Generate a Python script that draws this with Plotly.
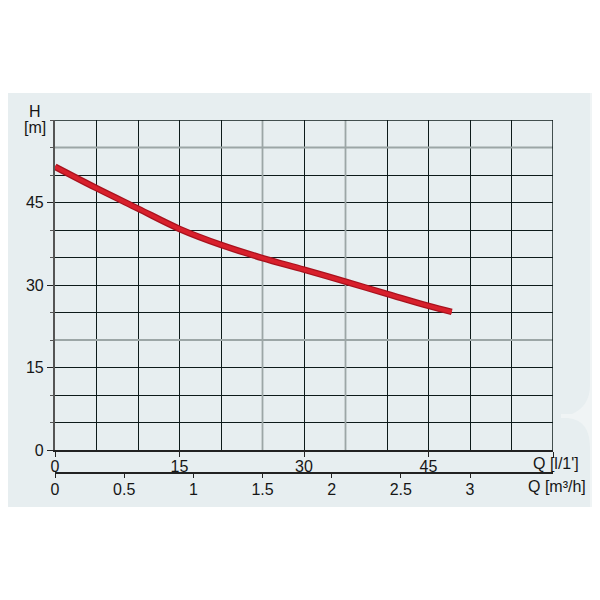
import plotly.graph_objects as go

# Data
q_lmin = [0, 5, 10, 15, 20, 25, 30, 35, 40, 45, 47.8]
head_m = [51.5, 47.6, 43.9, 40.2, 37.3, 34.9, 32.8, 30.6, 28.4, 26.2, 25.1]

y_ticks = [0, 15, 30, 45]
x_ticks = [0, 15, 30, 45, 60]
x_ticktext = ["0", "15", "30", "45", ""]
m3h_ticks = [0, 0.5, 1, 1.5, 2, 2.5, 3]
m3h_ticktext = ["0", "0.5", "1", "1.5", "2", "2.5", "3"]

gray_x = [25, 35]
gray_y = [20, 55]

OFF = 8  # default page body margin
W = H = 584
PL, PR, PT, PB = 55, 553, 120, 473
L, T = PL - OFF, PT - OFF
R = W - (PR - OFF)
B = H - (PB - OFF)
plot_h = PB - PT
pw = PR - PL
dom0 = (PB - 450) / plot_h


def px(x):
    return (x - PL) / pw


def py(y):
    return (PB - y) / plot_h


def path(points):
    out = []
    for cmd, *xy in points:
        coords = []
        for i in range(0, len(xy), 2):
            coords.append(f"{px(xy[i]):.5f},{py(xy[i + 1]):.5f}")
        out.append(cmd + " " + " ".join(coords))
    return " ".join(out) + " Z"


FONT = "Liberation Sans"
TXT = "#161616"
BG = "#e7eef0"
BG_LIGHT = "#f0f4f5"
GRID = "#0d1a1a"

fig = go.Figure()
fig.add_trace(go.Scatter(x=q_lmin, y=head_m, mode="lines", line=dict(color="#a8121e", width=6.5, shape="spline"),
                         hoverinfo="skip", showlegend=False))
fig.add_trace(go.Scatter(x=q_lmin, y=head_m, mode="lines", line=dict(color="#d8202c", width=4, shape="spline"),
                         showlegend=False))
fig.add_trace(go.Scatter(x=[0, 3.6], y=[0, 0], xaxis="x2", mode="lines", line=dict(width=0),
                         hoverinfo="skip", showlegend=False))

shapes = [
    dict(type="rect", xref="paper", yref="paper", layer="below",
         x0=px(560), x1=px(600), y0=py(507), y1=py(93), fillcolor=BG_LIGHT, line=dict(width=0)),
    dict(type="rect", xref="paper", yref="paper", layer="below",
         x0=px(8), x1=px(561), y0=py(507), y1=py(93), fillcolor=BG, line=dict(width=0)),
    dict(type="path", xref="paper", yref="paper", layer="below", fillcolor=BG, line=dict(width=0),
         path=path([("M", 560, 93), ("L", 590, 93), ("L", 590, 385),
                    ("Q", 590, 406, 572, 414), ("L", 560, 414)])),
    dict(type="path", xref="paper", yref="paper", layer="below", fillcolor=BG, line=dict(width=0),
         path=path([("M", 560, 418), ("L", 568, 418), ("Q", 590, 420, 590, 448),
                    ("L", 590, 507), ("L", 560, 507)])),
]
for gx in gray_x:
    shapes.append(dict(type="line", xref="x", yref="y", x0=gx, x1=gx, y0=0, y1=60, layer="between",
                       line=dict(color="#9ca6a6", width=1.8)))
for gy in gray_y:
    shapes.append(dict(type="line", xref="x", yref="y", x0=0, x1=60, y0=gy, y1=gy, layer="between",
                       line=dict(color="#9ca6a6", width=1.8)))
shapes.append(dict(type="line", xref="x", yref="y", x0=0, x1=60, y0=60, y1=60, line=dict(color=GRID, width=1.5)))
shapes.append(dict(type="line", xref="x", yref="y", x0=60, x1=60, y0=0, y1=60, line=dict(color=GRID, width=1.5)))

fig.update_layout(
    width=W, height=H,
    margin=dict(l=L, r=R, t=T, b=B, pad=0),
    paper_bgcolor="white", plot_bgcolor="rgba(0,0,0,0)",
    font=dict(family=FONT, size=16, color=TXT),
    shapes=shapes,
    xaxis=dict(range=[0, 60], tickvals=x_ticks, ticktext=x_ticktext, ticks="outside", ticklen=5,
               ticklabelstandoff=-4,
               tickcolor="#222", showline=True, linecolor="#222", linewidth=1.5,
               showgrid=True, gridcolor=GRID, gridwidth=1.2,
               minor=dict(dtick=5, tick0=0, showgrid=True, gridcolor=GRID, gridwidth=1.2, ticks=""),
               zeroline=False, anchor="y", fixedrange=True),
    xaxis2=dict(range=[0, 3.6], overlaying="x", anchor="free", position=0, side="bottom",
                tickvals=m3h_ticks, ticktext=m3h_ticktext, ticks="outside", ticklen=4,
                ticklabelstandoff=-2,
                tickcolor="#222", showline=True, linecolor="#222", linewidth=1.5,
                showgrid=False, zeroline=False, fixedrange=True),
    yaxis=dict(range=[0, 60], domain=[dom0, 1], tickvals=y_ticks, ticks="outside", ticklen=6,
               tickcolor="#222", showline=True, linecolor="#555", linewidth=2.2,
               showgrid=True, gridcolor=GRID, gridwidth=1.2,
               minor=dict(dtick=5, tick0=0, showgrid=True, gridcolor=GRID, gridwidth=1.2,
                          ticks="outside", ticklen=3, tickcolor="#555"),
               zeroline=False, fixedrange=True),
    annotations=[
        dict(text="H", xref="paper", yref="paper", x=px(35), y=py(111),
             showarrow=False, xanchor="center", yanchor="middle", font=dict(size=16)),
        dict(text="[m]", xref="paper", yref="paper", x=px(35), y=py(127),
             showarrow=False, xanchor="center", yanchor="middle", font=dict(size=16)),
        dict(text="Q [l/1']", xref="paper", yref="paper", x=px(581), y=py(463),
             showarrow=False, xanchor="right", yanchor="middle", font=dict(size=16)),
        dict(text="Q [m³/h]", xref="paper", yref="paper", x=px(588), y=py(486),
             showarrow=False, xanchor="right", yanchor="middle", font=dict(size=16)),
    ],
)

fig.write_html("out.html")
